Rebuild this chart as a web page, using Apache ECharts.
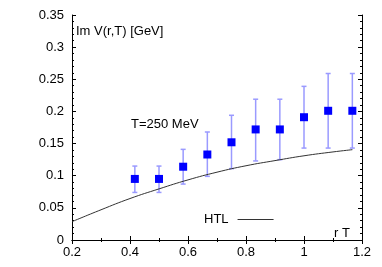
<!DOCTYPE html>
<html><head><meta charset="utf-8">
<script src="https://cdn.jsdelivr.net/npm/echarts@6/dist/echarts.min.js"></script>
<style>html,body{margin:0;padding:0;background:#fff}#c{width:382px;height:267px}</style>
</head><body><div id="c"></div>
<script>
// Lattice data: rT, Im V (GeV), error-bar low, error-bar high
var rT     = [0.4167, 0.5, 0.5833, 0.6667, 0.75, 0.8333, 0.9167, 1.0, 1.0833, 1.1667];
var imV    = [0.095, 0.095, 0.114, 0.133, 0.152, 0.172, 0.172, 0.191, 0.201, 0.201];
var errLow = [0.074, 0.074, 0.087, 0.099, 0.111, 0.123, 0.125, 0.143, 0.143, 0.143];
var errHigh= [0.115, 0.115, 0.141, 0.168, 0.194, 0.219, 0.219, 0.239, 0.259, 0.259];
// HTL curve
var htlX = [0.2, 0.3, 0.4, 0.5, 0.6, 0.7, 0.8, 0.9, 1.0, 1.1, 1.167];
var htlY = [0.0285, 0.047, 0.0645, 0.0795, 0.0935, 0.1055, 0.1155, 0.1235, 0.131, 0.137, 0.1405];
// tick labels
var xTicks = ["0.2", "0.4", "0.6", "0.8", "1", "1.2"];
var yTicks = ["0", "0.05", "0.1", "0.15", "0.2", "0.25", "0.3", "0.35"];

var FONT = '"Liberation Sans", Arial, sans-serif';
var chart = echarts.init(document.getElementById('c'), null, {renderer: 'canvas'});

var pts = rT.map(function (x, i) { return [x, imV[i]]; });
var bars = rT.map(function (x, i) { return [x, errLow[i], errHigh[i]]; });
var htl = htlX.map(function (x, i) { return [x, htlY[i]]; });

function axisCommon(show) {
  return {
    axisLine: {show: true, lineStyle: {color: '#000', width: 1}},
    axisTick: {show: true, inside: true, length: 4, lineStyle: {color: '#000'}},
    minorTick: {show: true, length: 2, lineStyle: {color: '#000'}},
    splitLine: {show: false},
    axisLabel: {show: show}
  };
}

var xBottom = Object.assign(axisCommon(true), {
  type: 'value', min: 0.2, max: 1.2, interval: 0.2, position: 'bottom'
});
xBottom.minorTick.splitNumber = 2;
xBottom.axisLabel = {show: true, color: '#000', fontSize: 13, fontFamily: FONT, margin: 6,
  formatter: function (v) { return xTicks[Math.round((v - 0.2) / 0.2)]; }};
var xTop = Object.assign(axisCommon(false), {
  type: 'value', min: 0.2, max: 1.2, interval: 0.2, position: 'top'
});
xTop.minorTick.splitNumber = 2;

var yLeft = Object.assign(axisCommon(true), {
  type: 'value', min: 0, max: 0.35, interval: 0.05, position: 'left'
});
yLeft.minorTick.splitNumber = 5;
yLeft.axisLabel = {show: true, color: '#000', fontSize: 13, fontFamily: FONT, margin: 8,
  formatter: function (v) { return yTicks[Math.round(v / 0.05)]; }};
var yRight = Object.assign(axisCommon(false), {
  type: 'value', min: 0, max: 0.35, interval: 0.05, position: 'right'
});
yRight.minorTick.splitNumber = 5;

chart.setOption({
  animation: false,
  backgroundColor: '#fff',
  grid: {left: 72, right: 20, top: 15, bottom: 27, containLabel: false},
  xAxis: [xBottom, xTop],
  yAxis: [yLeft, yRight],
  legend: {
    data: ['HTL'], left: 199, top: 208, align: 'right',
    icon: 'rect', itemWidth: 36, itemHeight: 1, itemGap: 0,
    textStyle: {color: '#000', fontSize: 13, fontFamily: FONT, padding: [0, 4, 0, 0]}
  },
  graphic: [
    {type: 'text', left: 76, top: 25, style: {text: 'Im V(r,T) [GeV]', fill: '#000', font: '13px ' + FONT}},
    {type: 'text', left: 131, top: 118, style: {text: 'T=250 MeV', fill: '#000', font: '13px ' + FONT}},
    {type: 'text', left: 334, top: 227, style: {text: 'r T', fill: '#000', font: '13px ' + FONT}}
  ],
  series: [
    {
      name: 'err', type: 'custom', xAxisIndex: 0, yAxisIndex: 0,
      data: bars,
      renderItem: function (params, api) {
        var x = api.value(0);
        var lo = api.coord([x, api.value(1)]);
        var hi = api.coord([x, api.value(2)]);
        var c = 2.5;
        var st = {stroke: '#9a9aff', lineWidth: 1.5};
        return {type: 'group', children: [
          {type: 'line', shape: {x1: lo[0], y1: lo[1], x2: hi[0], y2: hi[1]}, style: st},
          {type: 'line', shape: {x1: lo[0] - c, y1: lo[1], x2: lo[0] + c, y2: lo[1]}, style: st},
          {type: 'line', shape: {x1: hi[0] - c, y1: hi[1], x2: hi[0] + c, y2: hi[1]}, style: st}
        ]};
      },
      encode: {x: 0, y: [1, 2]},
      z: 1
    },
    {
      name: 'HTL', type: 'line', data: htl, smooth: true, showSymbol: false, symbol: 'none',
      lineStyle: {color: '#333', width: 1}, itemStyle: {color: '#333'}, z: 2
    },
    {
      name: 'data', type: 'scatter', data: pts, symbol: 'rect', symbolSize: 8,
      itemStyle: {color: '#0000ff', opacity: 1}, z: 3
    }
  ]
});
</script>
</body></html>
